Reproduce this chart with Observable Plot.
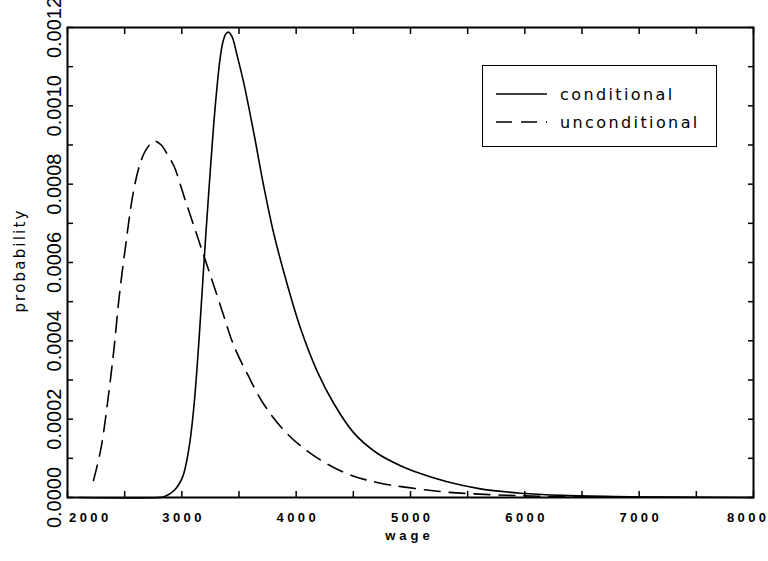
<!DOCTYPE html>
<html><head><meta charset="utf-8">
<script src="https://cdn.jsdelivr.net/npm/d3@7"></script>
<script src="https://cdn.jsdelivr.net/npm/@observablehq/plot@0.6"></script>
<style>
body{margin:0;background:#fff;}
#wrap{position:relative;width:768px;height:561px;}
#legend{position:absolute;left:482px;top:65px;width:235px;height:82px;box-sizing:border-box;border:1.5px solid #000;background:#fff;font-family:"DejaVu Sans",sans-serif;font-size:16px;letter-spacing:2.4px;}
#legend .row{position:absolute;left:13px;height:20px;display:flex;align-items:center;}
#legend svg{display:block;margin-right:13px;}
</style>
</head><body>
<div id="wrap"></div>
<script>
// conditional wage density
const condWage = [2100, 2800, 2845, 2933, 3006, 3064, 3108, 3152, 3195, 3239, 3294, 3338, 3362, 3386, 3411, 3440, 3484, 3542, 3630, 3717, 3804, 3921, 4038, 4184, 4329, 4504, 4709, 4913, 5029, 5321, 5612, 5962, 6338, 6800, 7300, 8000];
const condProb = [0, 0, 0.000002, 0.000018, 0.000052, 0.000129, 0.00024, 0.00041, 0.000606, 0.000794, 0.001005, 0.001128, 0.001166, 0.001184, 0.001188, 0.001176, 0.001128, 0.001058, 0.00093, 0.000794, 0.000674, 0.000545, 0.000432, 0.000322, 0.00024, 0.000165, 0.000113, 0.000081, 0.000067, 0.00004, 0.000022, 0.000011, 0.0000055, 0.0000025, 0.000001, 0];
// unconditional wage density
const uncWage = [2227, 2292, 2364, 2408, 2452, 2511, 2569, 2627, 2685, 2758, 2820, 2875, 2933, 3020, 3108, 3195, 3283, 3370, 3426, 3487, 3572, 3717, 3921, 4154, 4446, 4738, 5321, 5551, 5901, 6300, 6800];
const uncProb = [0.0000435, 0.000124, 0.000274, 0.000384, 0.000512, 0.000649, 0.000768, 0.000845, 0.000887, 0.00091, 0.0009, 0.000875, 0.000845, 0.000768, 0.000691, 0.000615, 0.000538, 0.000461, 0.00041, 0.000366, 0.000316, 0.000238, 0.000163, 0.000107, 0.0000606, 0.0000366, 0.0000136, 0.0000094, 0.000005, 0.000002, 0.0000005];

const seriesNames = ["conditional", "unconditional"];
const xLabelTicks = [3000, 4000, 5000, 6000, 7000];
const xStartTicks = [2000];
const xEndTicks = [8000];
const xMinorTicks = d3.range(2000, 8001, 500);
const yLabelTicks = [0, 0.0002, 0.0004, 0.0006, 0.0008, 0.0010, 0.0012];
const yMinorTicks = d3.range(0, 13).map(i => i * 0.0001);
const xTitle = "wage";
const yTitle = "probability";

const cond = condWage.map((w, i) => ({wage: w, prob: condProb[i]}));
const unc = uncWage.map((w, i) => ({wage: w, prob: uncProb[i]}));

const blank = () => "";
const xFont = {fontSize: 13, fontWeight: "bold", fontFamily: "'Liberation Sans',sans-serif", fill: "#000"};
const chart = Plot.plot({
  width: 768, height: 561,
  marginLeft: 67, marginRight: 15, marginTop: 27, marginBottom: 64,
  style: {background: "white", overflow: "visible"},
  x: {domain: [2000, 8000]},
  y: {domain: [0, 0.0012]},
  marks: [
    Plot.axisX({anchor: "bottom", ticks: xMinorTicks, tickSize: -6, tickFormat: blank, label: null, strokeWidth: 1.5}),
    Plot.axisX({anchor: "top", ticks: xMinorTicks, tickSize: -6, tickFormat: blank, label: null, strokeWidth: 1.5}),
    Plot.axisY({anchor: "left", ticks: yMinorTicks, tickSize: -6, tickFormat: blank, label: null, strokeWidth: 1.5}),
    Plot.axisY({anchor: "right", ticks: yMinorTicks, tickSize: -6, tickFormat: blank, label: null, strokeWidth: 1.5}),
    Plot.line(cond, {x: "wage", y: "prob", curve: "catmull-rom", stroke: "#000", strokeWidth: 1.6}),
    Plot.line(unc, {x: "wage", y: "prob", curve: "catmull-rom", stroke: "#000", strokeWidth: 1.6, strokeDasharray: "16,9"}),
    Plot.frame({stroke: "#000", strokeWidth: 2}),
    Plot.text(yLabelTicks, {y: d => d, frameAnchor: "left", text: d => d.toFixed(4), rotate: -90, textAnchor: "middle", lineAnchor: "middle", dx: -13, fontSize: 20, fontFamily: "'Liberation Sans Narrow','Liberation Sans',sans-serif", fill: "#000"}),
    Plot.text(xLabelTicks, {x: d => d, frameAnchor: "bottom", text: d => String(d), lineAnchor: "top", dy: 14.8, dx: 1.7, ...xFont}),
    Plot.text(xStartTicks, {x: d => d, frameAnchor: "bottom", text: d => String(d), textAnchor: "start", lineAnchor: "top", dy: 14.8, dx: 1.5, ...xFont}),
    Plot.text(xEndTicks, {x: d => d, frameAnchor: "bottom", text: d => String(d), textAnchor: "end", lineAnchor: "top", dy: 14.8, dx: 16, ...xFont}),
    Plot.text([xTitle], {frameAnchor: "bottom", text: d => d, lineAnchor: "top", dy: 32.8, dx: -1, ...xFont}),
    Plot.text([yTitle], {frameAnchor: "left", text: d => d, rotate: -90, textAnchor: "middle", lineAnchor: "middle", dx: -47, dy: -2, fontSize: 15, fontFamily: "'DejaVu Sans',sans-serif", fill: "#000"})
  ]
});
const wrap = document.getElementById("wrap");
wrap.appendChild(chart);

// letter spacing for the axis texts
const xSet = new Set([...xLabelTicks, ...xStartTicks, ...xEndTicks].map(String));
d3.select(chart).selectAll("text").each(function () {
  const t = this.textContent;
  if (xSet.has(t)) this.style.letterSpacing = "3.4px";
  else if (t === xTitle) this.style.letterSpacing = "4px";
  else if (t === yTitle) this.style.letterSpacing = "2.2px";
});

// legend
const legend = document.createElement("div");
legend.id = "legend";
const dashes = [null, "16,9"];
seriesNames.forEach((name, i) => {
  const row = document.createElement("div");
  row.className = "row";
  row.style.top = (18 + i * 28) + "px";
  const dash = dashes[i] ? `stroke-dasharray="${dashes[i]}"` : "";
  row.innerHTML = `<svg width="51" height="4"><line x1="0" y1="2" x2="51" y2="2" stroke="#000" stroke-width="1.6" ${dash}/></svg><span>${name}</span>`;
  legend.appendChild(row);
});
wrap.appendChild(legend);
</script>
</body></html>
